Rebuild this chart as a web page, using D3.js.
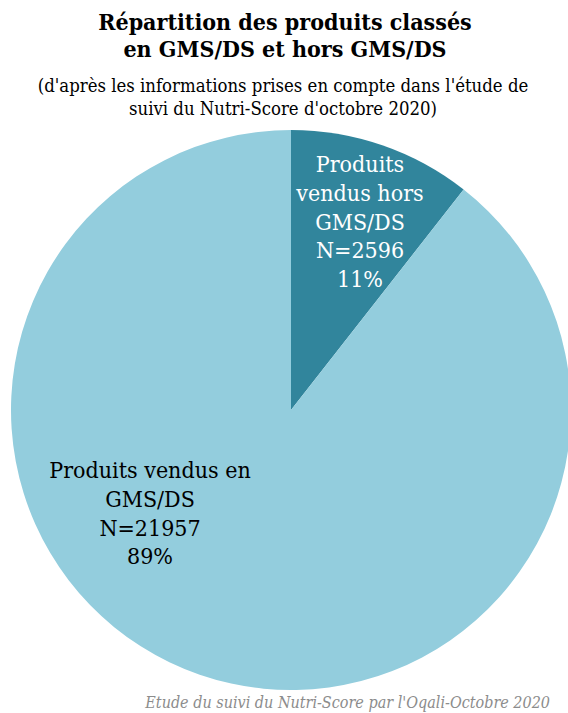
<!DOCTYPE html>
<html>
<head>
<meta charset="utf-8">
<script src="https://cdn.jsdelivr.net/npm/d3@7"></script>
<style>
  body { margin: 0; background: #fff; }
  text { font-family: "DejaVu Serif", "Liberation Serif", serif; font-stretch: condensed; }
</style>
</head>
<body>
<div id="chart"></div>
<script>
// data
var categories = ["Produits vendus hors GMS/DS", "Produits vendus en GMS/DS"];
var counts = [2596, 21957];
var percents = ["11%", "89%"];
var labelLines = [
  ["Produits", "vendus hors", "GMS/DS"],
  ["Produits vendus en", "GMS/DS"]
];
var titleLines = ["Répartition des produits classés", "en GMS/DS et hors GMS/DS"];
var subtitleLines = ["(d'après les informations prises en compte dans l'étude de", "suivi du Nutri-Score d'octobre 2020)"];
var footer = "Etude du suivi du Nutri-Score par l'Oqali-Octobre 2020";

var width = 568, height = 713;
var cx = 291, cy = 410, radius = 280;

var svg = d3.select("#chart")
  .append("svg")
  .attr("width", width)
  .attr("height", height);

//colors
var colorScale = d3.scaleOrdinal()
  .domain(categories)
  .range(["#31859c", "#93cddd"]);
var textColor = d3.scaleOrdinal()
  .domain(categories)
  .range(["#ffffff", "#000000"]);

var slices = categories.map(function (c, i) {
  return { name: c, value: counts[i], pct: percents[i], lines: labelLines[i] };
});

var pie = d3.pie().sort(null).value(function (d) { return d.value; });
var arc = d3.arc().innerRadius(0).outerRadius(radius);

var g = svg.append("g").attr("transform", "translate(" + cx + "," + cy + ")");

g.selectAll(".slice")
  .data(pie(slices))
  .enter().append("path")
  .attr("class", "slice")
  .attr("d", arc)
  .attr("fill", function (d) { return colorScale(d.data.name); });

//labels (positions relative to centre)
var labelPos = [[69, -238], [-141, 68]];
var lineH = 28.8;

g.selectAll(".label")
  .data(pie(slices))
  .enter().append("text")
  .attr("class", "label")
  .attr("text-anchor", "middle")
  .attr("font-size", 23)
  .attr("fill", function (d) { return textColor(d.data.name); })
  .each(function (d, i) {
    var t = d3.select(this);
    var lines = d.data.lines.concat(["N=" + d.data.value, d.data.pct]);
    lines.forEach(function (l, j) {
      t.append("tspan")
        .attr("x", labelPos[i][0])
        .attr("y", labelPos[i][1] + j * lineH)
        .text(l);
    });
  });

//title
svg.selectAll(".title")
  .data(titleLines)
  .enter().append("text")
  .attr("class", "title")
  .attr("x", 285)
  .attr("y", function (d, i) { return 30 + i * 27; })
  .attr("text-anchor", "middle")
  .attr("font-size", 23)
  .attr("font-weight", "bold")
  .attr("fill", "#000")
  .text(function (d) { return d; });

svg.selectAll(".subtitle")
  .data(subtitleLines)
  .enter().append("text")
  .attr("class", "subtitle")
  .attr("x", 283)
  .attr("y", function (d, i) { return 92 + i * 23; })
  .attr("text-anchor", "middle")
  .attr("font-size", 18.4)
  .attr("fill", "#000")
  .text(function (d) { return d; });

svg.append("text")
  .attr("x", 550)
  .attr("y", 708)
  .attr("text-anchor", "end")
  .attr("font-size", 16)
  .attr("font-style", "italic")
  .attr("fill", "#8c8c8c")
  .text(footer);
</script>
</body>
</html>
